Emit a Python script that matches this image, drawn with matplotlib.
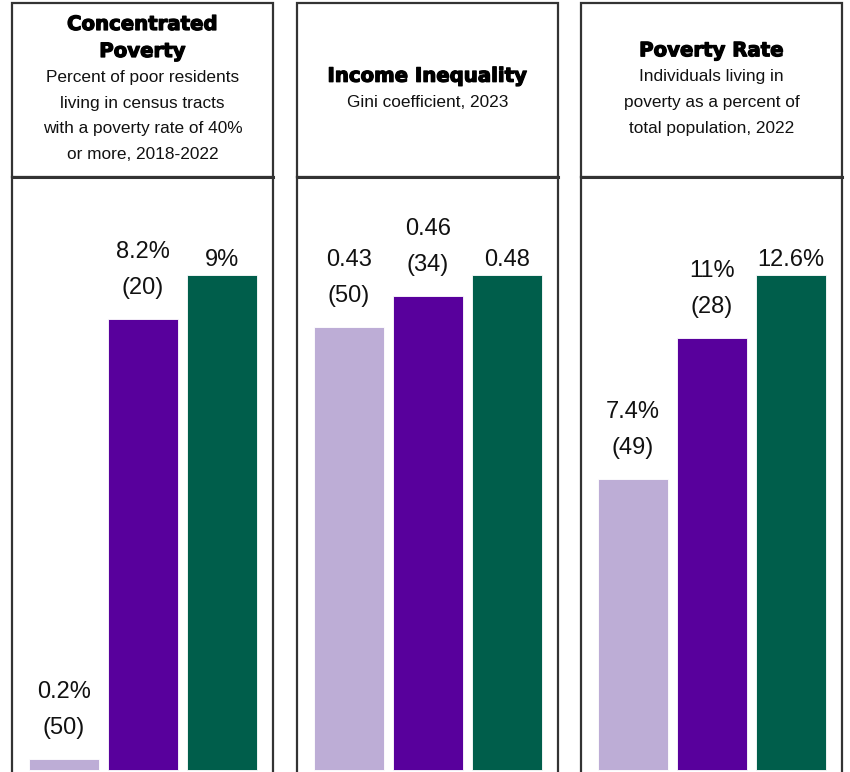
import matplotlib
matplotlib.use("Agg")
import matplotlib.pyplot as plt
import matplotlib.patheffects as pe
from matplotlib.patches import Rectangle

# Panel content
titles = ["Concentrated\nPoverty", "Income Inequality", "Poverty Rate"]
subtitles = [
    "Percent of poor residents\nliving in census tracts\nwith a poverty rate of 40%\nor more, 2018-2022",
    "Gini coefficient, 2023",
    "Individuals living in\npoverty as a percent of\ntotal population, 2022",
]
values = [
    [0.2, 8.2, 9.0],
    [0.43, 0.46, 0.48],
    [7.4, 11.0, 12.6],
]
value_labels = [
    ["0.2%", "8.2%", "9%"],
    ["0.43", "0.46", "0.48"],
    ["7.4%", "11%", "12.6%"],
]
ranks = [
    ["(50)", "(20)", None],
    ["(50)", "(34)", None],
    ["(49)", "(28)", None],
]
bar_colors = ["#BDADD6", "#58009C", "#005E4B"]

W, H = 850, 772
fig = plt.figure(figsize=(W / 100, H / 100), dpi=100)
fig.patch.set_facecolor("white")

body_font = ["Liberation Sans", "DejaVu Sans"]
title_font = ["DejaVu Sans"]
edge = "#333333"

panel_left = [12, 297, 581]
panel_width = 261
header_top, header_bottom = 3, 177
bar_base, bar_max_top = 770, 275
unit = 79.0


def fx(px):
    return px / W


def fy(py):
    return 1 - py / H


for i in range(3):
    x0 = panel_left[i]
    # header box
    fig.patches.append(Rectangle((fx(x0), fy(header_bottom)), fx(panel_width),
                                 (header_bottom - header_top) / H,
                                 transform=fig.transFigure, fill=False,
                                 edgecolor=edge, linewidth=1.6))
    # chart box (open at the bottom)
    fig.lines.append(plt.Line2D([fx(x0), fx(x0)], [fy(header_bottom), fy(H + 5)],
                                transform=fig.transFigure, color=edge, lw=1.6))
    fig.lines.append(plt.Line2D([fx(x0 + panel_width), fx(x0 + panel_width)],
                                [fy(header_bottom), fy(H + 5)],
                                transform=fig.transFigure, color=edge, lw=1.6))
    fig.lines.append(plt.Line2D([fx(x0), fx(x0 + panel_width)],
                                [fy(header_bottom), fy(header_bottom)],
                                transform=fig.transFigure, color=edge, lw=2.2))

    # header text block, centred vertically in the header box
    n_title = titles[i].count("\n") + 1
    n_sub = subtitles[i].count("\n") + 1
    t_lh, s_lh = 27, 25.5
    block = n_title * t_lh + n_sub * s_lh
    ymid = (header_top + header_bottom) / 2 - 1
    ystart = ymid - block / 2
    cx = fx(x0 + panel_width / 2)
    for k, line in enumerate(titles[i].split("\n")):
        fig.text(cx, fy(ystart + t_lh * (k + 0.5)), line, ha="center", va="center",
                 fontsize=14.2, fontweight="heavy", family=title_font, color="black",
                 path_effects=[pe.withStroke(linewidth=0.9, foreground="black")])
    ys = ystart + n_title * t_lh
    for k, line in enumerate(subtitles[i].split("\n")):
        fig.text(cx, fy(ys + s_lh * (k + 0.5)), line, ha="center", va="center",
                 fontsize=12.4, family=body_font, color="#111111")

    # bar axes: value 0 sits at bar_base, the largest value at bar_max_top
    vmax = max(values[i])
    scale = vmax / (bar_base - bar_max_top)
    ax = fig.add_axes([fx(x0), fy(H), fx(panel_width), (H - header_bottom - 1) / H])
    ax.set_ylim(-(H - bar_base) * scale, (bar_base - header_bottom - 1) * scale)
    ax.set_xlim(-52 / unit, 2 + (panel_width - 52 - 2 * unit) / unit)
    ax.axis("off")
    xs = [0, 1, 2]
    ax.bar(xs, values[i], width=70 / unit, color=bar_colors,
           edgecolor="white", linewidth=0.6)
    for j, x in enumerate(xs):
        v = values[i][j]
        if ranks[i][j]:
            ax.annotate(ranks[i][j], (x, v), xytext=(0, 31 * 0.72), textcoords="offset points",
                        ha="center", va="center", fontsize=17, family=body_font,
                        color="#111111")
            ax.annotate(value_labels[i][j], (x, v), xytext=(0, 67 * 0.72),
                        textcoords="offset points", ha="center", va="center",
                        fontsize=17, family=body_font, color="#111111")
        else:
            ax.annotate(value_labels[i][j], (x, v), xytext=(0, 15 * 0.72),
                        textcoords="offset points", ha="center", va="center",
                        fontsize=17, family=body_font, color="#111111")

fig.savefig("out.png", dpi=100, facecolor="white")
